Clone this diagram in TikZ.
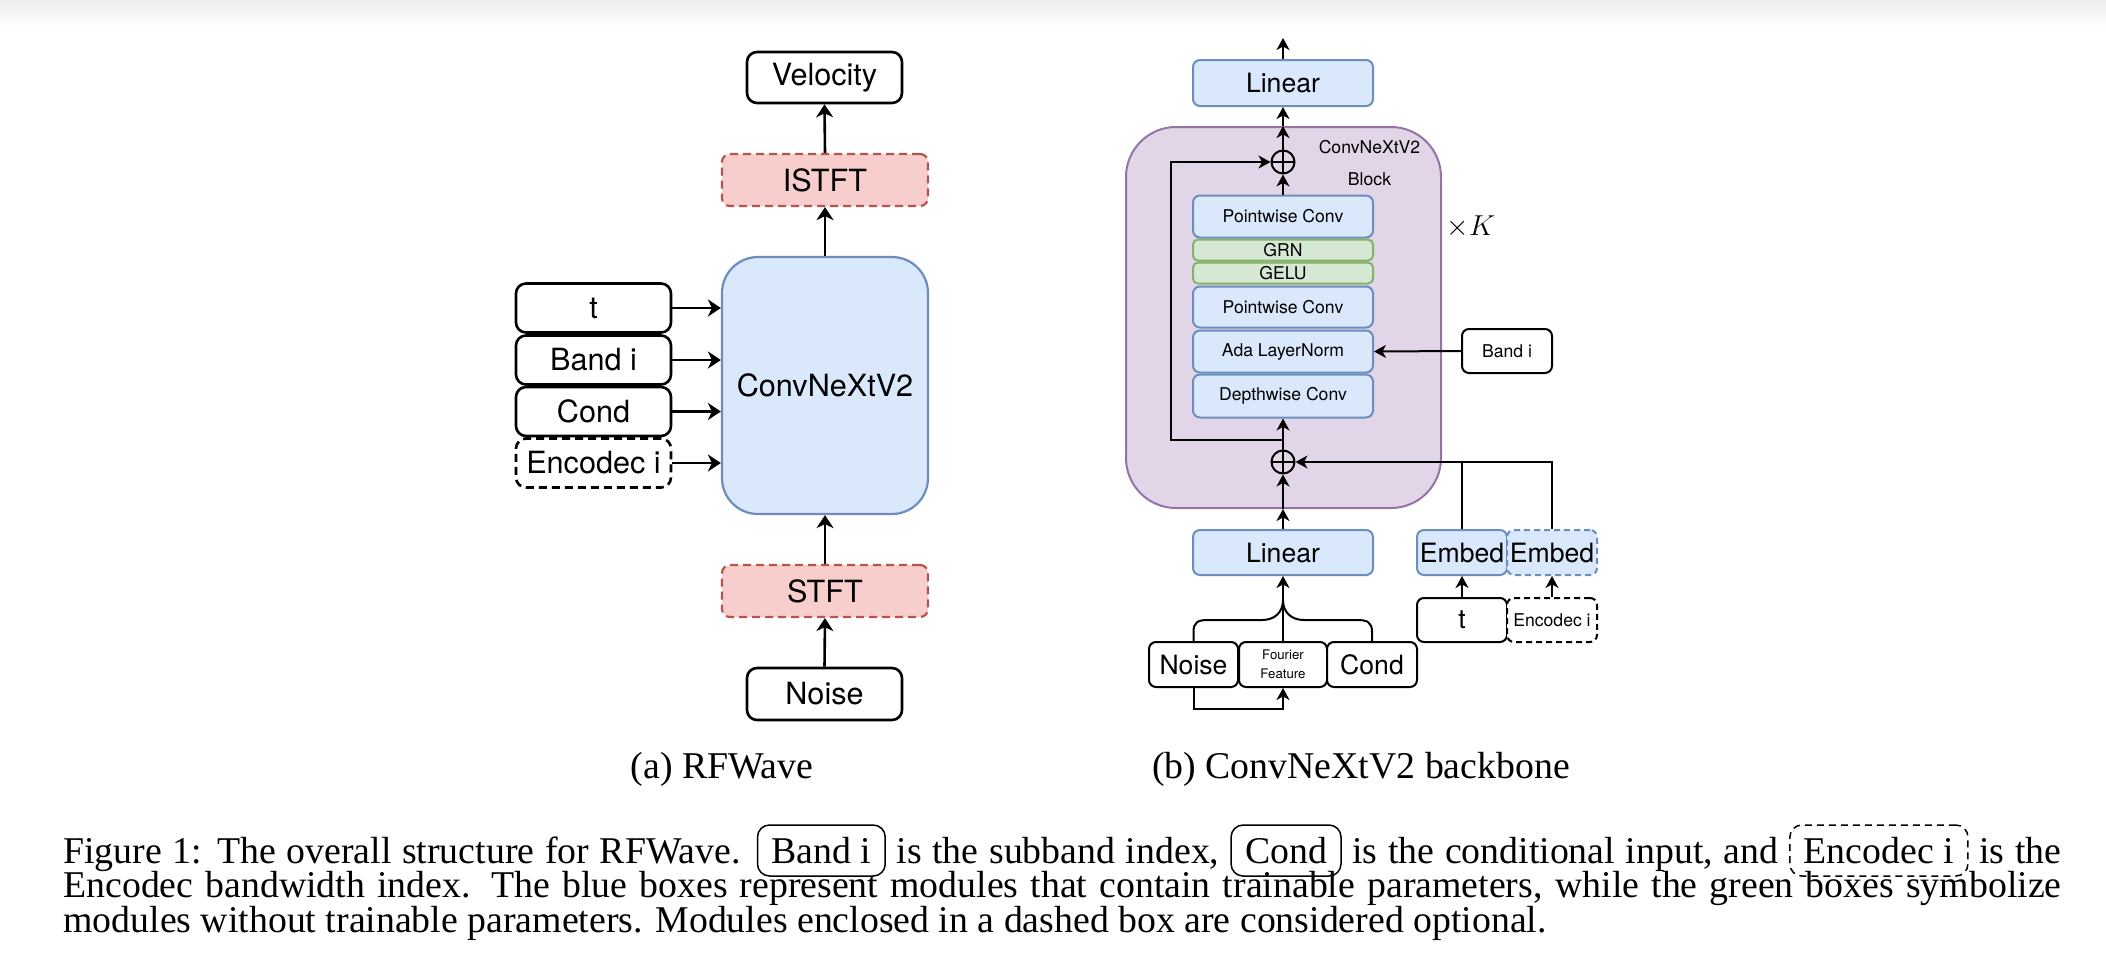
\documentclass[tikz,border=0pt]{standalone}
\usepackage{fontspec}
\setmainfont{Liberation Serif}
\newfontfamily\hv{TeX Gyre Heros}
\usetikzlibrary{arrows.meta}
\definecolor{bfill}{HTML}{DAE8FC}
\definecolor{bdraw}{HTML}{6C8EBF}
\definecolor{rfill}{HTML}{F8CECC}
\definecolor{rdraw}{HTML}{B85450}
\definecolor{gfill}{HTML}{D5E8D4}
\definecolor{gdraw}{HTML}{82B366}
\definecolor{pfill}{HTML}{E1D5E7}
\definecolor{pdraw}{HTML}{9673A6}
\tikzset{
  afont/.style={font=\hv\fontsize{15.3}{18}\selectfont},
  bfont/.style={font=\hv\fontsize{13.3}{16}\selectfont},
  sfont/.style={font=\hv\fontsize{8.8}{10.5}\selectfont},
  abox/.style={draw=black, line width=1.3pt, rounded corners=5pt, fill=white, inner sep=0pt, afont},
  adash/.style={abox, dash pattern=on 4pt off 2.5pt},
  ared/.style={draw=rdraw, fill=rfill, line width=1.1pt, dash pattern=on 4pt off 2.5pt, rounded corners=4pt, inner sep=0pt, afont},
  aconv/.style={draw=bdraw, fill=bfill, line width=1.1pt, rounded corners=18pt, inner sep=0pt, afont},
  aarrow/.style={line width=1.3pt, -{Stealth[length=6.5pt, width=8.5pt, inset=2pt]}},
  bbox/.style={draw=black, line width=1pt, rounded corners=3.5pt, fill=white, inner sep=0pt},
  bdash/.style={bbox, dash pattern=on 3pt off 2pt},
  blue/.style={draw=bdraw, fill=bfill, line width=1pt, rounded corners=3.5pt, inner sep=0pt, minimum width=90pt},
  bluedash/.style={blue, dash pattern=on 3pt off 2pt},
  green/.style={draw=gdraw, fill=gfill, line width=1pt, rounded corners=2.5pt, inner sep=0pt, minimum width=90pt, sfont},
  barrow/.style={line width=1pt, -{Stealth[length=6pt, width=6.5pt, inset=1.8pt]}},
  bline/.style={line width=1pt},
  oplus/.style={circle, draw=black, line width=1pt, minimum size=11.5pt, inner sep=0pt,
    path picture={\draw[line width=1pt] (path picture bounding box.north) -- (path picture bounding box.south)
      (path picture bounding box.west) -- (path picture bounding box.east);}},
  capfont/.style={font=\fontsize{18.9}{17.25}\selectfont},
  capbox/.style={draw=black, line width=0.75pt, rounded corners=6pt, inner xsep=7pt, inner ysep=0pt,
    text height=19pt, text depth=6.5pt, capfont},
  capdash/.style={capbox, dash pattern=on 3.5pt off 2.5pt},
}
\begin{document}
\begin{tikzpicture}[x=0.5pt, y=-0.5pt]
\path[use as bounding box, fill=white] (0,0) rectangle (2106,976);
\shade[top color=black!7, bottom color=white, draw=none] (0,0) rectangle (2106,28);

% ---------------- (a) RFWave ----------------
\node[abox, minimum width=77.5pt, minimum height=25.5pt] (vel) at (824.5,77.5) {Velocity};
\node[ared, minimum width=103pt, minimum height=26pt] (istft) at (825,180) {ISTFT};
\node[aconv, minimum width=103pt, minimum height=128.5pt] (conv) at (825,385.5) {ConvNeXtV2};
\node[ared, minimum width=103pt, minimum height=26pt] (stft) at (825,591) {STFT};
\node[abox, minimum width=77.5pt, minimum height=26pt] (noise) at (824.5,694) {Noise};
\node[abox, minimum width=77.5pt, minimum height=24.5pt] (ta) at (593.5,308) {t};
\node[abox, minimum width=77.5pt, minimum height=24.5pt] (banda) at (593.5,360) {Band i};
\node[abox, minimum width=77.5pt, minimum height=24.5pt] (conda) at (593.5,411.5) {Cond};
\node[adash, minimum width=77.5pt, minimum height=24.5pt] (enca) at (593.5,463) {Encodec i};

\draw[aarrow] (conv.north) -- (istft.south);
\draw[aarrow] (istft.north) -- (vel.south);
\draw[aarrow] (noise.north) -- (stft.south);
\draw[aarrow] (stft.north) -- (conv.south);
\foreach \n in {ta,banda,conda,enca}{
  \draw[aarrow] (\n.east) -- (\n.east -| conv.west);
}
\node[anchor=base, capfont, inner sep=0pt] (capa) at (722,778) {(a) RFWave};

% ---------------- (b) ConvNeXtV2 backbone ----------------
\node[draw=pdraw, fill=pfill, line width=1pt, rounded corners=25pt, minimum width=157.5pt, minimum height=190.5pt, inner sep=0pt] (block) at (1283.5,317.5) {};
\node[blue, minimum height=23pt, bfont] (lin1) at (1283,83) {Linear};
\node[blue, minimum height=21pt, sfont] (pw2) at (1283,216.5) {Pointwise Conv};
\node[green, minimum height=10.5pt] (grn) at (1283,250) {GRN};
\node[green, minimum height=10.5pt] (gelu) at (1283,273) {GELU};
\node[blue, minimum height=20.5pt, sfont] (pw1) at (1283,307) {Pointwise Conv};
\node[blue, minimum height=21pt, sfont] (ada) at (1283,351.5) {Ada LayerNorm};
\node[blue, minimum height=21.5pt, sfont] (dw) at (1283,396) {Depthwise Conv};
\node[oplus] (op1) at (1283,162) {};
\node[oplus] (op2) at (1283,462) {};
\node[sfont, align=center, inner sep=0pt, font=\hv\fontsize{8.8}{16}\selectfont] (blbl) at (1369.5,163) {ConvNeXtV2\\Block};
\node[inner sep=0pt, font=\fontsize{15}{18}\selectfont] (xk) at (1471,227) {$\times K$};
\node[bbox, minimum width=45pt, minimum height=22pt, sfont] (bandb) at (1507,351) {Band i};

\node[blue, minimum height=22.5pt, bfont] (lin2) at (1283,552.5) {Linear};
\node[blue, minimum width=45pt, minimum height=22.5pt, bfont] (emb1) at (1462,552.5) {Embed};
\node[bluedash, minimum width=45pt, minimum height=22.5pt, bfont] (emb2) at (1552,552.5) {Embed};
\node[bbox, minimum width=45pt, minimum height=22pt, bfont] (tb) at (1462,620) {t};
\node[bdash, minimum width=45pt, minimum height=22pt, sfont] (encb) at (1552,620) {Encodec i};
\node[bbox, minimum width=44.5pt, minimum height=22.5pt, bfont] (noiseb) at (1193.5,664.5) {Noise};
\node[bbox, minimum width=44pt, minimum height=22.5pt, align=center, font=\hv\fontsize{6.6}{9.5}\selectfont] (ff) at (1283,664.5) {Fourier\\Feature};
\node[bbox, minimum width=45pt, minimum height=22.5pt, bfont] (condb) at (1372,664.5) {Cond};

\coordinate (out) at (1283,38);
\coordinate (rs) at (1283,440);
\coordinate (rl) at (1171,440);
\coordinate (nf) at (1193.5,709);
\coordinate (bt) at (1283,600);

\draw[barrow] (lin1.north) -- (out);
\draw[barrow] (op1.north) -- (op1.north |- block.north);
\draw[barrow] (op1.north |- block.north) -- (lin1.south);
\draw[barrow] (pw2.north) -- (op1.south);
\draw[barrow] (op2.north) -- (dw.south);
\draw[barrow] (lin2.north) -- (lin2.north |- block.south);
\draw[barrow] (lin2.north |- block.south) -- (op2.south);
\draw[barrow] (rs) -- (rl) |- (op1.west);
\draw[barrow] (bandb.west) -- (ada.east);
\draw[bline] (emb1.north) -- (emb1.north |- op2.east);
\draw[barrow] (emb2.north) |- (op2.east);
\draw[barrow] (tb.north) -- (emb1.south);
\draw[barrow] (encb.north) -- (emb2.south);
\draw[barrow] (ff.north) -- (lin2.south);
\draw[bline] (noiseb.north) -- (1193.5,632) .. controls (1193.5,622) and (1198,620) .. (1208,620)
  -- (1262,620) .. controls (1275,620) and (1283,612) .. (bt);
\draw[bline] (condb.north) -- (1372,632) .. controls (1372,622) and (1367,620) .. (1357,620)
  -- (1304,620) .. controls (1291,620) and (1283,612) .. (bt);
\draw[barrow] (noiseb.south) -- (nf) -| (ff.south);

\node[anchor=base, capfont, inner sep=0pt] (capb) at (1361,778) {(b) ConvNeXtV2 backbone};

% ---------------- caption ----------------
\node[anchor=base west, inner sep=0pt] (cap) at (63,863) {\parbox[t]{999pt}{\fontsize{18.9}{17.25}\selectfont\lineskiplimit=-60pt\emergencystretch=20pt
Figure 1: The overall structure for RFWave. \tikz[baseline=(cb1.base)]\node[capbox] (cb1) {Band i}; is the subband index, \tikz[baseline=(cb2.base)]\node[capbox] (cb2) {Cond}; is the conditional input, and \tikz[baseline=(cb3.base)]\node[capdash] (cb3) {Encodec i}; is the\linebreak
Encodec bandwidth index. The blue boxes represent modules that contain trainable parameters, while the green boxes symbolize\linebreak
modules without trainable parameters. Modules enclosed in a dashed box are considered optional.}};
\end{tikzpicture}
\end{document}
